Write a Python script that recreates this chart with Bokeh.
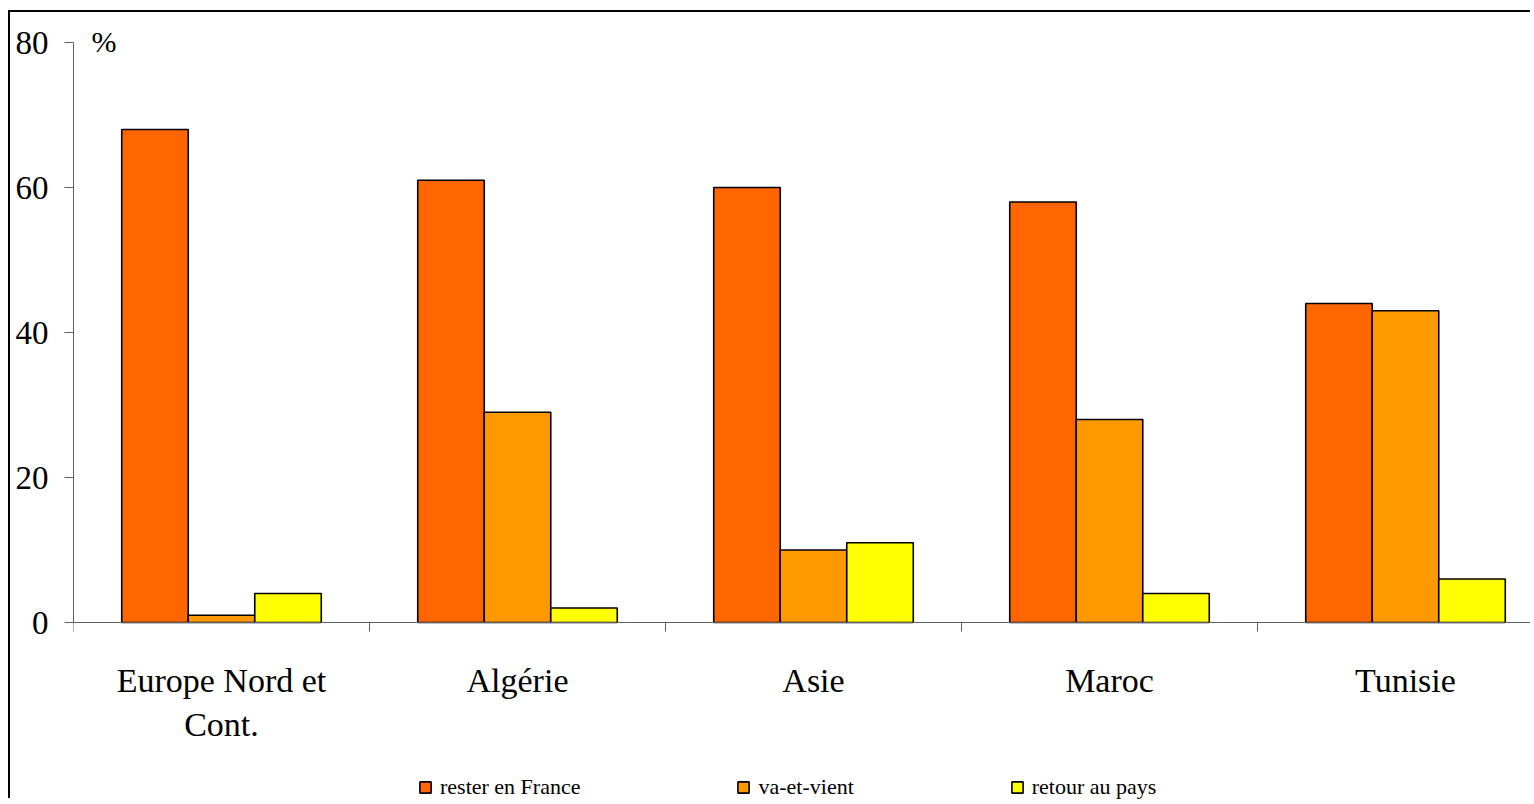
from bokeh.plotting import figure
from bokeh.models import Range1d, FixedTicker, Label, Legend, LegendItem
from bokeh.embed import file_html
from bokeh.resources import INLINE

categories = ["Europe Nord et\nCont.", "Algérie", "Asie", "Maroc", "Tunisie"]
series_names = ["rester en France", "va-et-vient", "retour au pays"]
rester = [68, 61, 60, 58, 44]
va_et_vient = [1, 29, 10, 28, 43]
retour = [4, 2, 11, 4, 6]
y_ticks = [0, 20, 40, 60, 80]
colors = ["#FF6600", "#FF9900", "#FFFF00"]

FONT = "Liberation Serif"
AXIS_COLOR = "#606060"
PX_PER_UNIT = 580 / 80

p = figure(width=1522, height=788, output_backend="svg", toolbar_location=None,
           x_range=Range1d(0, 1459 / 296),
           y_range=Range1d(-178 / PX_PER_UNIT, 80 + 30 / PX_PER_UNIT),
           min_border_left=63, min_border_right=0, min_border_top=0,
           min_border_bottom=0)
p.styles = {"border-top": "2px solid black", "border-left": "2px solid black",
            "margin-top": "10px", "margin-left": "8px"}
p.outline_line_color = None
p.xgrid.visible = False
p.ygrid.visible = False

bw = 0.2247
renderers = []
for k, (vals, col) in enumerate(zip([rester, va_et_vient, retour], colors)):
    xs = [i + 0.5 + (k - 1) * bw for i in range(len(categories))]
    r = p.vbar(x=xs, top=vals, bottom=0, width=bw, fill_color=col,
               line_color="black", line_width=1.6)
    renderers.append(r)

# y axis
p.yaxis.ticker = FixedTicker(ticks=y_ticks)
p.yaxis.bounds = (0, 80)
p.yaxis.minor_tick_line_color = None
p.yaxis.major_tick_in = 0
p.yaxis.major_tick_out = 9
p.yaxis.axis_line_color = AXIS_COLOR
p.yaxis.major_tick_line_color = AXIS_COLOR
p.yaxis.major_label_text_font = FONT
p.yaxis.major_label_text_font_size = "33px"
p.yaxis.major_label_text_color = "black"
p.yaxis.major_label_standoff = 16

# x axis, fixed at y = 0
centers = [i + 0.5 for i in range(len(categories))]
p.xaxis.fixed_location = 0
p.xaxis.ticker = FixedTicker(ticks=centers, minor_ticks=list(range(len(categories) + 1)))
p.xaxis.major_label_overrides = {c: lab for c, lab in zip(centers, categories)}
p.xaxis.major_tick_in = 0
p.xaxis.major_tick_out = 0
p.xaxis.minor_tick_in = 0
p.xaxis.minor_tick_out = 9
p.xaxis.minor_tick_line_color = AXIS_COLOR
p.xaxis.axis_line_color = AXIS_COLOR
p.xaxis.major_label_text_font = FONT
p.xaxis.major_label_text_font_size = "34px"
p.xaxis.major_label_text_color = "black"
p.xaxis.major_label_standoff = 30
p.xaxis.major_label_text_line_height = 1.2

p.add_layout(Label(x=0.061, y=80 + 1 / PX_PER_UNIT, text="%", text_font=FONT,
                   text_font_size="30px", text_color="black",
                   text_baseline="alphabetic"))

legend = Legend(items=[LegendItem(label=n, renderers=[r]) for n, r in zip(series_names, renderers)],
                orientation="horizontal", location=(345, 0),
                label_text_font=FONT, label_text_font_size="22px", label_text_color="black",
                glyph_width=14, glyph_height=14, label_standoff=8, spacing=156,
                border_line_color=None, background_fill_alpha=0, padding=0, margin=0)
p.add_layout(legend, "center")

open("out.html", "w").write(file_html(p, INLINE))
